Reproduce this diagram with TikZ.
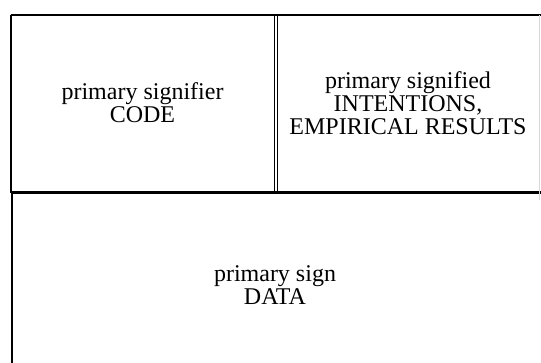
\documentclass[tikz,border=0pt]{standalone}
\usepackage{fontspec}
\setmainfont{Liberation Serif}
\tikzset{
  frame/.style={line width=2pt, black},
  thickframe/.style={line width=3pt, black},
  faint/.style={line width=0.6pt, black!15},
  label/.style={align=center, inner sep=0pt, font=\fontsize{24}{23}\selectfont}
}
\begin{document}
\begin{tikzpicture}[x=1pt,y=1pt]
\useasboundingbox (0,0) rectangle (541,363);
% coordinates (image y measured from top: tikz y = 363 - y)
\coordinate (tl) at (10.5,348);
\coordinate (tr) at (541,348);
\coordinate (ml) at (10.5,170);
\coordinate (mr) at (541,170);
\coordinate (bl) at (12,0);
\coordinate (vt1) at (274.5,348);
\coordinate (vb1) at (274.5,170);
\coordinate (vt2) at (277.5,348);
\coordinate (vb2) at (277.5,170);
\coordinate (rt) at (539,348);
\coordinate (rb) at (539,163);
% frame lines
\draw[frame] (tl) -- (tr);
\draw[frame] (tl) -- (ml);
\draw[frame] (ml |- 0,170) ++(1.5,0) coordinate (ml2) -- (bl);
\draw[thickframe] (ml) -- (mr);
\draw[line width=1.5pt] (vt1) -- (vb1);
\draw[line width=1.5pt] (vt2) -- (vb2);
\draw[faint] (rt) -- (rb);
% texts
\node[label] (code) at (142.5,260) {primary signifier\\CODE};
\node[label] (intent) at (408,260) {primary signified\\INTENTIONS,\\EMPIRICAL RESULTS};
\node[label] (data) at (275,78) {primary sign\\DATA};
\end{tikzpicture}
\end{document}
